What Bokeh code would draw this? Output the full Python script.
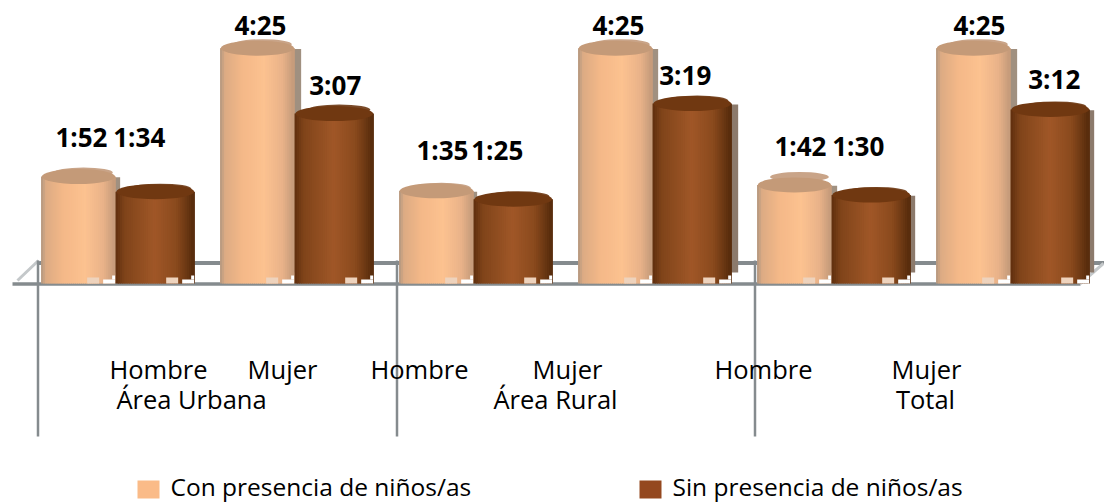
from bokeh.plotting import figure
from bokeh.embed import file_html
from bokeh.resources import INLINE
from bokeh.core.properties import value as pv

categories = ["Hombre", "Mujer", "Hombre", "Mujer", "Hombre", "Mujer"]
groups = ["Área Urbana", "Área Rural", "Total"]
series_names = ["Con presencia de niños/as", "Sin presencia de niños/as"]
con_ninos = ["1:52", "4:25", "1:35", "4:25", "1:42", "4:25"]
sin_ninos = ["1:34", "3:07", "1:25", "3:19", "1:30", "3:12"]

FONT = "Open Sans"
X0, XS, Y0, YS = 115.0, 179.0, 270.0, 0.839   # image px <-> data scale
W, H = 1104, 504


def dx(px):
    return (px - X0) / XS


def dy(py):
    return (Y0 - py) / YS


def mins(s):
    h, m = s.split(":")
    return int(h) * 60 + int(m)


def hexmix(a, b, t):
    ca = [int(a[i:i + 2], 16) for i in (1, 3, 5)]
    cb = [int(b[i:i + 2], 16) for i in (1, 3, 5)]
    return "#%02x%02x%02x" % tuple(round(x + (y - x) * t) for x, y in zip(ca, cb))


def shade(stops, t):
    for (t0, c0), (t1, c1) in zip(stops, stops[1:]):
        if t <= t1:
            return hexmix(c0, c1, (t - t0) / (t1 - t0))
    return stops[-1][1]


LIGHT = [(0, "#b3977f"), (.07, "#dcab84"), (.3, "#f4b888"), (.6, "#fcc290"), (.85, "#e9b289"), (1, "#c39a7a")]
DARK = [(0, "#5f2f0d"), (.12, "#80441a"), (.5, "#a05728"), (.78, "#8a4a1d"), (1, "#562b0c")]

p = figure(width=W, height=H, output_backend="svg", toolbar_location=None,
           x_range=(dx(0), dx(W)), y_range=(dy(H), dy(0)),
           min_border=0, min_border_left=0, min_border_right=0,
           min_border_top=0, min_border_bottom=0, outline_line_color=None,
           background_fill_color="white", border_fill_color="white")
p.axis.visible = False
p.grid.visible = False

GREY = "#858b8e"
base = dy(283)
# floor: back rail, front rail, depth edges
p.segment(x0=[dx(38)], y0=[dy(262.5)], x1=[dx(1104)], y1=[dy(262.5)], line_color=GREY, line_width=4)
p.segment(x0=[dx(12)], y0=[dy(283.5)], x1=[dx(1080)], y1=[dy(283.5)], line_color=GREY, line_width=3.5)
p.segment(x0=[dx(17), dx(1080)], y0=[dy(280), dy(283)], x1=[dx(38), dx(1103)], y1=[dy(260), dy(263)],
          line_color="#c4c8ca", line_width=3)
# separators
seps = [dx(37.5), dx(396.5), dx(754.5)]
p.segment(x0=seps, y0=[dy(260)] * 3, x1=seps, y1=[dy(436)] * 3, line_color=GREY, line_width=2.5)

N = 36


def cylinder(cx, w, val, stops, cap, cap_back, shadow, shadow_px, rear_rise):
    top = mins(val)
    # soft shadow and rear cap
    if shadow_px:
        p.vbar(x=[cx + dx(X0 + shadow_px)], width=w, bottom=[dy(272)], top=[top - 1], fill_color=shadow,
               line_color=None)
    p.ellipse(x=[cx + dx(X0 + 5)], y=[top + rear_rise / YS], width=w * .8, height=10 / YS, fill_color=cap_back,
              line_color=None)
    xs = [cx - w / 2 + w * (i + .5) / N for i in range(N)]
    p.vbar(x=xs, width=w / N * 1.7, bottom=[base] * N, top=[top] * N,
           fill_color=[shade(stops, min(1, (i + .5) / N)) for i in range(N)], line_color=None)
    p.ellipse(x=[cx], y=[top], width=w, height=15 / YS, fill_color=cap, line_color=None)
    # stepped foot at the lower right of the cylinder
    rx = cx + w / 2
    p.vbar(x=[rx - 6 / XS], width=12 / XS, bottom=[base], top=[dy(279)], fill_color="white", line_color=None)
    p.vbar(x=[rx - 1.5 / XS], width=3 / XS, bottom=[dy(279)], top=[dy(275)], fill_color="white", line_color=None)
    p.vbar(x=[rx - 22 / XS], width=12 / XS, bottom=[base], top=[dy(277)], fill_color="#eed3bd", line_color=None)


light_shadow = [5, 7, 4, 6, 6, 7]
dark_shadow = [0, 0, 0, 7, 5, 5]
light_rear = [4, 4, 3, 4, 8, 4]
dark_rear = [3, 4, 3, 3, 3, 3]
for i, a in enumerate(con_ninos):
    cylinder(i - .207, .41, a, LIGHT, "#c49a78", "#c9a488", "#a09080", light_shadow[i], light_rear[i])
for i, b in enumerate(sin_ninos):
    cylinder(i + .222, .435, b, DARK, "#703811", "#7a4a28", "#8c7a6c", dark_shadow[i], dark_rear[i])

# value labels: nudges in px from the bar centre and top
lab_dx = [[3, 3, 6, 3, 6, 6], [-16, 1, -16, -7, -13, 4]]
lab_dy = [[40, 23, 41, 23, 39, 23], [55, 29, 49, 29, 49, 30]]
for series, off, dxs, dys in ((con_ninos, -.207, lab_dx[0], lab_dy[0]), (sin_ninos, .222, lab_dx[1], lab_dy[1])):
    p.text(x=[i + off for i in range(6)], y=[mins(v) for v in series], text=series,
           x_offset=dxs, y_offset=[-d for d in dys],
           text_font=pv(FONT), text_font_style="bold", text_font_size="26px", text_color="#000000",
           text_align="center", text_baseline="middle")

# category labels
cat_px = [158, 282, 419, 567, 763, 926]
p.text(x=[dx(c) for c in cat_px], y=[dy(368)] * 6, text=categories, text_font=pv(FONT), text_font_size="25.5px",
       text_color="#000000", text_align="center", text_baseline="middle")
grp_px = [191, 555, 925]
p.text(x=[dx(c) for c in grp_px], y=[dy(398)] * 3, text=groups, text_font=pv(FONT), text_font_size="25.5px",
       text_color="#000000", text_align="center", text_baseline="middle")

# legend
p.vbar(x=[dx(148)], width=22 / XS, bottom=[dy(498)], top=[dy(480)], fill_color="#fabb88", line_color=None)
p.vbar(x=[dx(650)], width=22 / XS, bottom=[dy(498)], top=[dy(480)], fill_color="#94481f", line_color=None)
p.text(x=[dx(170), dx(672)], y=[dy(486)] * 2, text=series_names, text_font=pv(FONT), text_font_size="24.5px",
       text_color="#000000", text_align="left", text_baseline="middle")

open("out.html", "w").write(file_html(p, INLINE))
